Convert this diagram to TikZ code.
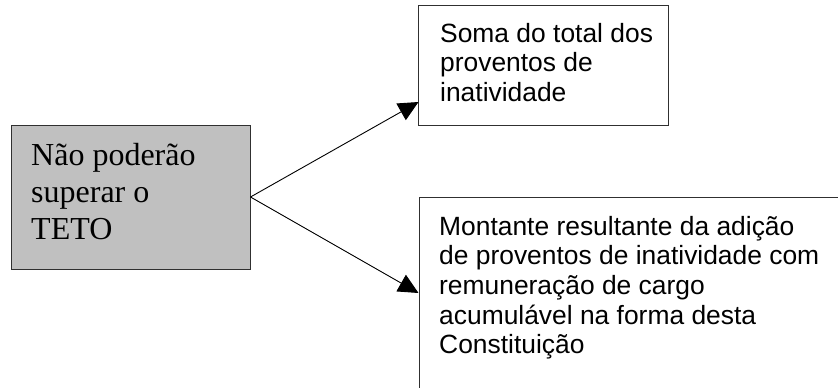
\documentclass[tikz,border=0pt]{standalone}
\usepackage{fontspec}
\setmainfont{Liberation Serif}
\newfontfamily\arialf{Liberation Sans}
\usetikzlibrary{arrows.meta}
\definecolor{boxgray}{HTML}{C0C0C0}
\definecolor{edgec}{HTML}{303030}
\tikzset{
  graybox/.style={draw=edgec, fill=boxgray, line width=1pt, inner sep=0pt},
  whitebox/.style={draw=edgec, fill=white, line width=1pt, inner sep=0pt},
  seriftext/.style={inner sep=0pt, anchor=north west, align=left, font=\fontsize{32}{37}\selectfont},
  sanstext/.style={inner sep=0pt, anchor=north west, align=left, font=\arialf\fontsize{26.4}{29.6}\selectfont},
  conn/.style={draw=black, line width=0.9pt, -{Triangle[length=20pt, width=19pt]}}
}
\begin{document}
\begin{tikzpicture}[x=1pt, y=-1pt]
\path[use as bounding box, clip] (0,0) rectangle (838,388);
\fill[white] (0,0) rectangle (838,388);
% boxes
\node[graybox, minimum width=239pt, minimum height=144pt] (teto) at (130.5,197) {};
\node[whitebox, minimum width=249.5pt, minimum height=120pt] (soma) at (543.25,65) {};
\node[whitebox, minimum width=481pt, minimum height=253pt] (montante) at (659.5,323.5) {};
% texts
\node[seriftext] (tetotext) at (31,135) {\rule{0pt}{30pt}Não poderão\\superar o\\TETO};
\node[sanstext] (somatext) at (440,17) {\rule{0pt}{25pt}Soma do total dos\\proventos de\\inatividade};
\node[sanstext] (montext) at (439,210) {\rule{0pt}{25pt}Montante resultante da adição\\de proventos de inatividade com\\remuneração de cargo\\acumulável na forma desta\\Constituição};
% connectors
\coordinate (tip1) at (418.5,102);
\coordinate (tip2) at (418.5,293);
\draw[conn] (teto.east) -- (tip1);
\draw[conn] (teto.east) -- (tip2);
\end{tikzpicture}
\end{document}
